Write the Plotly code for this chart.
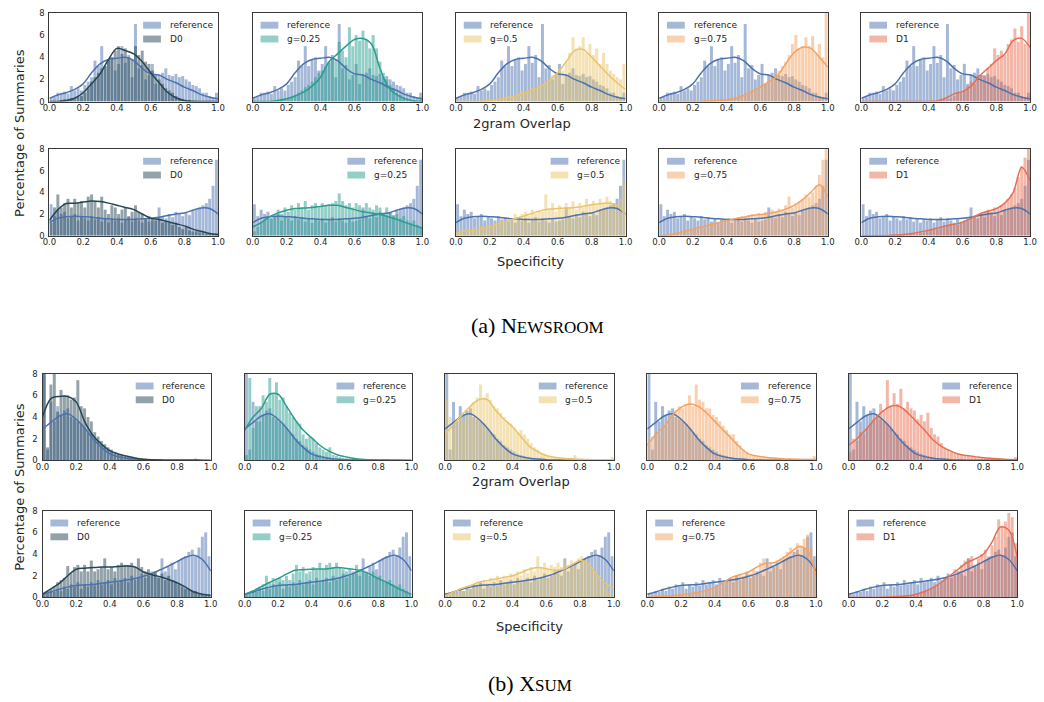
import plotly.graph_objects as go

W, H = 1044, 702

# ---------------- data ----------------
BIN_CENTERS = [0.01, 0.03, 0.05, 0.07, 0.09, 0.11, 0.13, 0.15, 0.17, 0.19,
               0.21, 0.23, 0.25, 0.27, 0.29, 0.31, 0.33, 0.35, 0.37, 0.39,
               0.41, 0.43, 0.45, 0.47, 0.49, 0.51, 0.53, 0.55, 0.57, 0.59,
               0.61, 0.63, 0.65, 0.67, 0.69, 0.71, 0.73, 0.75, 0.77, 0.79,
               0.81, 0.83, 0.85, 0.87, 0.89, 0.91, 0.93, 0.95, 0.97, 0.99]
KDE_X = [0.0, 0.05, 0.1, 0.15, 0.2, 0.25, 0.3, 0.35, 0.4, 0.45, 0.5,
         0.55, 0.6, 0.65, 0.7, 0.75, 0.8, 0.85, 0.9, 0.95, 1.0]
X_TICKS = [0.0, 0.2, 0.4, 0.6, 0.8, 1.0]
X_TICK_TEXT = ["0.0", "0.2", "0.4", "0.6", "0.8", "1.0"]
Y_TICKS = [0, 2, 4, 6, 8]

COND_LABELS = ["D0", "g=0.25", "g=0.5", "g=0.75", "D1"]
REF_LABEL = "reference"

# Newsroom - 2gram overlap
NR_OVL_REF = [0.3, 0.4, 0.8, 0.8, 0.9, 0.7, 1.4, 1.0, 1.2, 1.0,
              1.5, 1.8, 2.2, 3.7, 3.2, 5.0, 3.2, 3.8, 4.0, 2.8,
              3.4, 5.0, 3.5, 4.2, 2.2, 7.0, 3.0, 3.3, 2.0, 2.4,
              3.4, 1.6, 2.4, 2.6, 3.0, 2.4, 2.3, 2.5, 2.2, 2.3,
              2.0, 1.8, 1.5, 1.4, 1.2, 0.8, 0.8, 0.5, 0.4, 0.8]
NR_OVL_REF_KDE = [0.3, 0.6, 0.8, 1.1, 1.6, 2.6, 3.4, 3.8, 3.9, 4.0, 3.7,
                  3.0, 2.5, 2.4, 2.0, 1.7, 1.3, 1.0, 0.63, 0.4, 0.25]
NR_OVL_D0 = [0, 0, 0, 0.1, 0.2, 0.1, 0.3, 0.2, 0.4, 0.5,
             0.8, 1.2, 1.8, 2.2, 2.6, 3.0, 3.2, 3.8, 4.0, 4.6,
             5.0, 4.3, 4.8, 4.0, 3.8, 5.0, 4.2, 4.6, 3.6, 3.4,
             2.8, 2.4, 2.0, 1.6, 1.2, 1.0, 0.8, 0.5, 0.3, 0.2,
             0.1, 0.1, 0, 0, 0, 0, 0, 0, 0, 0]
NR_OVL_D0_KDE = [0, 0.02, 0.1, 0.3, 0.8, 1.6, 2.5, 3.8, 4.8, 4.6, 4.3,
                 3.6, 2.6, 1.7, 0.84, 0.35, 0.1, 0.03, 0.01, 0, 0]
NR_OVL_G25 = [0, 0, 0, 0, 0, 0, 0, 0.1, 0.1, 0.2,
              0.3, 0.4, 0.6, 0.8, 1.0, 1.3, 1.5, 1.8, 2.2, 2.6,
              2.8, 3.2, 3.6, 4.0, 3.8, 5.4, 4.6, 4.0, 6.7, 5.0,
              6.0, 5.5, 6.4, 5.6, 4.8, 6.0, 4.8, 3.6, 2.6, 2.0,
              1.5, 1.2, 0.8, 0.6, 0.4, 0.3, 0.1, 0.1, 0, 0.1]
NR_OVL_G25_KDE = [0, 0, 0.02, 0.1, 0.25, 0.5, 0.85, 1.4, 2.2, 3.6, 4.3,
                  5.0, 5.6, 5.7, 5.2, 3.0, 1.3, 0.6, 0.25, 0.05, 0]
NR_OVL_G50 = [0, 0, 0, 0, 0, 0, 0, 0.1, 0.1, 0.1,
              0.2, 0.2, 0.3, 0.3, 0.4, 0.5, 0.5, 0.6, 0.8, 1.0,
              0.8, 1.0, 1.2, 1.1, 1.4, 1.6, 1.8, 2.0, 2.4, 2.6,
              3.0, 2.8, 3.6, 4.4, 5.8, 4.8, 5.0, 5.8, 4.4, 5.2,
              4.2, 4.8, 3.4, 4.4, 3.4, 2.8, 2.5, 2.2, 2.0, 3.4]
NR_OVL_G50_KDE = [0, 0, 0, 0.02, 0.08, 0.2, 0.33, 0.5, 0.75, 1.05, 1.4,
                  1.9, 2.6, 3.6, 4.6, 4.7, 4.0, 3.2, 2.4, 1.7, 1.1]
NR_OVL_G75 = [0, 0, 0, 0, 0, 0, 0, 0, 0, 0,
              0, 0, 0.05, 0.05, 0.1, 0.1, 0.1, 0.15, 0.2, 0.2,
              0.3, 0.3, 0.4, 0.5, 0.6, 0.7, 0.8, 1.0, 1.2, 1.3,
              1.5, 1.6, 2.0, 2.3, 2.5, 2.8, 3.2, 3.6, 4.2, 5.2,
              6.0, 4.8, 5.0, 5.8, 5.0, 5.9, 4.4, 5.2, 4.0, 8.0]
NR_OVL_G75_KDE = [0, 0, 0, 0, 0, 0.02, 0.05, 0.1, 0.15, 0.25, 0.54,
                  0.9, 1.3, 1.8, 2.3, 3.4, 4.4, 4.9, 4.8, 4.0, 3.1]
NR_OVL_D1 = [0, 0, 0, 0, 0, 0, 0, 0, 0, 0,
             0, 0, 0, 0, 0, 0, 0, 0, 0, 0,
             0, 0, 0, 0.1, 0.1, 0.2, 0.3, 0.5, 0.8, 0.8,
             1.0, 1.4, 1.8, 1.6, 2.4, 2.4, 2.4, 3.0, 3.4, 4.8,
             4.2, 4.6, 4.2, 5.2, 5.6, 6.6, 5.4, 6.8, 5.2, 8.0]
NR_OVL_D1_KDE = [0, 0, 0, 0, 0, 0, 0, 0, 0.02, 0.05, 0.3,
                 0.7, 0.9, 1.4, 2.3, 3.0, 3.7, 4.3, 5.5, 5.7, 4.9]

# Newsroom - specificity
NR_SPEC_REF = [2.9, 1.8, 2.4, 2.0, 2.2, 1.6, 1.8, 2.0, 1.4, 1.8,
               1.6, 1.4, 1.8, 1.5, 1.7, 1.3, 1.6, 1.2, 1.5, 1.4,
               1.6, 1.2, 1.5, 1.7, 1.3, 1.6, 1.4, 1.2, 1.5, 1.3,
               1.4, 1.5, 2.6, 1.8, 1.6, 2.0, 1.7, 2.2, 2.0, 1.8,
               2.1, 1.9, 2.4, 2.5, 2.6, 2.8, 3.0, 3.4, 4.6, 7.0]
NR_SPEC_REF_KDE = [1.2, 1.6, 1.75, 1.8, 1.75, 1.7, 1.6, 1.55, 1.5, 1.5, 1.5,
                   1.55, 1.6, 1.7, 1.85, 2.0, 2.1, 2.35, 2.55, 2.5, 2.0]
NR_SPEC_D0 = [1.2, 2.6, 3.8, 2.6, 3.0, 3.4, 2.6, 3.4, 3.0, 3.2,
              2.6, 3.6, 3.8, 3.2, 2.6, 3.6, 2.4, 2.0, 2.8, 2.6,
              2.0, 2.4, 2.6, 1.8, 2.2, 2.8, 2.2, 2.0, 1.6, 1.8,
              1.6, 1.4, 1.6, 1.2, 1.4, 1.2, 1.0, 1.2, 0.8, 0.6,
              0.8, 0.5, 0.4, 0.4, 0.3, 0.4, 0.2, 0.2, 0.1, 0.1]
NR_SPEC_D0_KDE = [1.4, 2.4, 2.96, 3.0, 3.1, 3.2, 3.15, 3.0, 2.8, 2.6, 2.4,
                  2.0, 1.6, 1.5, 1.3, 1.1, 0.9, 0.6, 0.4, 0.2, 0.1]
NR_SPEC_G25 = [0.4, 0.8, 1.2, 1.4, 1.8, 1.6, 2.0, 2.4, 2.0, 2.6,
               2.2, 2.8, 2.4, 3.0, 2.6, 3.2, 2.4, 2.8, 3.0, 2.6,
               3.0, 2.8, 2.9, 3.0, 3.2, 3.9, 3.2, 2.8, 3.0, 2.6,
               3.0, 2.8, 2.4, 3.0, 2.6, 2.4, 2.8, 2.6, 2.0, 2.6,
               2.2, 1.8, 2.0, 1.6, 1.8, 1.4, 1.2, 1.4, 1.0, 0.8]
NR_SPEC_G25_KDE = [0.8, 1.2, 1.75, 2.1, 2.35, 2.5, 2.55, 2.6, 2.7, 2.8, 2.8,
                   2.6, 2.4, 2.2, 2.1, 1.95, 1.75, 1.5, 1.2, 0.95, 0.7]
NR_SPEC_G50 = [0.3, 0.5, 0.2, 0.6, 0.4, 0.8, 0.6, 0.9, 0.7, 1.0,
               0.8, 1.2, 1.0, 1.4, 1.2, 1.6, 1.4, 2.0, 1.6, 2.0,
               2.2, 1.8, 2.4, 2.0, 2.2, 2.2, 3.8, 2.4, 3.0, 2.2,
               2.8, 2.4, 3.0, 2.6, 3.2, 2.4, 3.0, 2.6, 3.4, 2.8,
               3.2, 2.8, 3.4, 3.0, 3.6, 3.2, 3.0, 2.8, 3.4, 5.0]
NR_SPEC_G50_KDE = [0.2, 0.4, 0.5, 0.65, 0.85, 1.1, 1.35, 1.6, 1.8, 2.05, 2.3,
                   2.45, 2.5, 2.55, 2.6, 2.7, 2.85, 2.95, 3.0, 2.8, 1.9]
NR_SPEC_G75 = [0, 0, 0, 0.1, 0.2, 0.3, 0.3, 0.4, 0.5, 0.6,
               0.6, 0.7, 0.8, 0.9, 0.9, 1.0, 1.1, 1.2, 1.2, 1.4,
               1.3, 1.5, 1.6, 1.5, 1.8, 1.7, 1.9, 2.0, 1.8, 2.1,
               2.0, 2.2, 2.1, 2.4, 2.2, 2.5, 2.4, 2.8, 3.6, 2.6,
               3.0, 3.2, 3.4, 3.8, 3.6, 4.0, 4.6, 5.6, 7.0, 8.0]
NR_SPEC_G75_KDE = [0, 0.05, 0.2, 0.4, 0.6, 0.8, 1.0, 1.2, 1.4, 1.55, 1.7,
                   1.85, 1.95, 2.05, 2.2, 2.45, 2.8, 3.3, 4.0, 4.7, 3.6]
NR_SPEC_D1 = [0, 0, 0, 0, 0, 0, 0, 0, 0, 0,
              0.05, 0.05, 0.1, 0.1, 0.15, 0.2, 0.2, 0.3, 0.3, 0.4,
              0.5, 0.6, 0.6, 0.7, 0.8, 0.9, 1.0, 1.1, 1.0, 1.2,
              1.3, 1.4, 1.6, 1.8, 1.7, 2.0, 2.2, 2.4, 2.2, 2.6,
              2.6, 2.8, 3.0, 3.4, 3.8, 4.4, 5.4, 6.4, 7.2, 8.0]
NR_SPEC_D1_KDE = [0, 0, 0, 0, 0.05, 0.1, 0.2, 0.35, 0.5, 0.7, 0.9,
                  1.05, 1.25, 1.6, 2.0, 2.25, 2.5, 3.0, 4.0, 6.3, 5.1]

# XSum - 2gram overlap
XS_OVL_REF = [8.5, 1.0, 5.4, 3.6, 5.0, 4.2, 4.6, 4.8, 4.0, 3.8,
              3.6, 3.4, 3.0, 2.6, 2.4, 2.0, 1.8, 1.4, 1.2, 1.0,
              0.8, 0.6, 0.5, 0.4, 0.3, 0.25, 0.2, 0.15, 0.1, 0.1,
              0.05, 0.05, 0.05, 0.03, 0.03, 0.02, 0.02, 0.02, 0.02, 0.02,
              0.02, 0.02, 0.01, 0.01, 0.01, 0.01, 0.01, 0.01, 0.01, 0.02]
XS_OVL_REF_KDE = [2.9, 3.5, 4.1, 4.3, 3.8, 3.0, 2.0, 1.2, 0.6, 0.35, 0.2,
                  0.12, 0.07, 0.04, 0.02, 0.01, 0.01, 0.01, 0.01, 0, 0]
XS_OVL_D0 = [8.5, 1.2, 7.0, 8.5, 4.5, 6.5, 6.0, 6.0, 5.6, 5.8,
             7.4, 5.0, 4.8, 4.0, 3.6, 2.6, 2.2, 1.8, 1.5, 1.2,
             1.0, 0.8, 0.6, 0.5, 0.4, 0.35, 0.3, 0.2, 0.15, 0.1,
             0.1, 0.05, 0.05, 0.05, 0.03, 0.03, 0.02, 0.02, 0.02, 0.02,
             0.01, 0.01, 0.01, 0.01, 0.01, 0.1, 0.01, 0.01, 0.01, 0]
XS_OVL_D0_KDE = [4.0, 5.7, 5.9, 5.9, 5.4, 3.6, 2.3, 1.5, 0.9, 0.6, 0.4,
                 0.22, 0.1, 0.05, 0.03, 0.02, 0.01, 0.01, 0.01, 0, 0]
XS_OVL_G25 = [0.5, 7.6, 3.0, 5.0, 3.6, 6.0, 5.4, 7.6, 6.2, 7.2,
              5.6, 5.8, 5.0, 4.4, 4.0, 3.6, 3.4, 2.4, 2.0, 2.2,
              2.0, 1.6, 1.2, 1.0, 0.8, 1.2, 0.5, 0.4, 0.3, 0.2,
              0.2, 0.1, 0.1, 0.1, 0.05, 0.05, 0.05, 0.05, 0.05, 0.03,
              0.03, 0.03, 0.02, 0.02, 0.02, 0.02, 0.02, 0.02, 0.02, 0.02]
XS_OVL_G25_KDE = [2.8, 4.0, 4.8, 6.1, 6.1, 5.0, 3.8, 2.8, 2.1, 1.4, 0.9,
                  0.55, 0.35, 0.2, 0.1, 0.06, 0.04, 0.03, 0.02, 0.01, 0]
XS_OVL_G50 = [5.6, 4.0, 3.0, 3.6, 4.2, 3.8, 4.4, 5.0, 5.4, 5.8,
              7.0, 5.8, 6.2, 5.6, 5.0, 4.8, 4.4, 4.0, 3.6, 3.4,
              3.0, 2.6, 2.8, 2.4, 2.0, 1.6, 1.2, 1.0, 0.6, 0.5,
              0.4, 0.3, 0.3, 0.2, 0.2, 0.15, 0.1, 0.1, 0.5, 0.1,
              0.1, 0.05, 0.05, 0.05, 0.05, 0.05, 0.05, 0.05, 0.05, 0.3]
XS_OVL_G50_KDE = [2.4, 3.3, 4.2, 5.0, 5.6, 5.6, 4.6, 3.8, 3.1, 2.2, 1.3,
                  0.8, 0.45, 0.3, 0.2, 0.15, 0.1, 0.08, 0.06, 0.05, 0.05]
XS_OVL_G75 = [1.6, 2.2, 2.6, 2.4, 3.0, 3.2, 3.8, 4.0, 4.6, 5.0,
              4.8, 5.2, 6.0, 5.0, 7.0, 5.6, 5.4, 4.8, 4.8, 4.2,
              4.0, 3.6, 3.2, 2.8, 2.4, 2.4, 1.8, 1.4, 1.0, 0.8,
              0.6, 0.5, 0.4, 0.3, 0.3, 0.3, 0.3, 0.2, 0.2, 0.2,
              0.2, 0.15, 0.15, 0.1, 0.1, 0.1, 0.1, 0.1, 0.1, 0.4]
XS_OVL_G75_KDE = [1.4, 2.4, 3.1, 4.2, 4.9, 5.2, 5.0, 4.4, 3.6, 2.8, 2.0,
                  1.2, 0.6, 0.4, 0.3, 0.22, 0.15, 0.12, 0.1, 0.08, 0.08]
XS_OVL_D1 = [0.8, 2.0, 1.8, 2.6, 2.4, 3.0, 3.4, 3.8, 4.2, 5.2,
             4.6, 7.4, 5.0, 6.2, 5.2, 6.6, 4.8, 5.4, 4.8, 4.6,
             3.8, 4.2, 3.6, 4.4, 3.0, 2.4, 2.2, 1.6, 1.2, 1.0,
             0.8, 0.7, 0.6, 0.5, 0.4, 0.4, 0.3, 0.3, 0.2, 0.2,
             0.2, 0.1, 0.1, 0.1, 0.1, 0.1, 0.05, 0.05, 0.05, 0.3]
XS_OVL_D1_KDE = [1.4, 2.0, 2.8, 3.7, 4.5, 5.0, 5.0, 4.4, 3.6, 2.8, 1.9,
                 1.3, 0.9, 0.6, 0.45, 0.35, 0.25, 0.18, 0.12, 0.08, 0.05]

# XSum - specificity
XS_SPEC_REF = [0.4, 0.3, 0.6, 0.5, 0.8, 0.6, 1.0, 0.8, 1.2, 1.0,
               1.4, 0.8, 1.2, 1.0, 1.4, 1.1, 1.6, 1.2, 1.4, 1.6,
               1.2, 1.8, 1.4, 1.6, 1.8, 1.4, 2.0, 1.6, 1.8, 2.2,
               1.8, 2.0, 2.4, 2.2, 2.0, 3.6, 2.4, 2.8, 3.2, 2.6,
               3.4, 3.6, 3.8, 4.2, 4.4, 3.8, 4.6, 5.6, 6.0, 3.8]
XS_SPEC_REF_KDE = [0.3, 0.5, 0.75, 0.95, 1.1, 1.15, 1.2, 1.3, 1.4, 1.5, 1.6,
                   1.75, 1.95, 2.2, 2.55, 2.9, 3.3, 3.7, 3.9, 3.5, 2.45]
XS_SPEC_D0 = [0.4, 0.6, 0.8, 1.0, 1.4, 1.6, 1.8, 2.9, 2.2, 2.8,
              3.0, 2.4, 3.0, 2.4, 3.4, 2.4, 2.6, 2.8, 3.6, 2.6,
              2.8, 2.4, 3.0, 3.2, 3.0, 3.0, 3.2, 2.8, 3.6, 2.8,
              2.4, 2.6, 2.2, 2.4, 1.8, 2.2, 1.6, 2.0, 1.6, 1.4,
              1.2, 1.0, 0.8, 0.8, 0.6, 0.6, 0.4, 0.3, 0.2, 0.2]
XS_SPEC_D0_KDE = [0.3, 0.8, 1.3, 2.0, 2.6, 2.7, 2.75, 2.8, 2.8, 2.85, 2.9,
                  2.8, 2.35, 2.1, 1.9, 1.65, 1.35, 0.95, 0.5, 0.3, 0.2]
XS_SPEC_G25 = [0.3, 0.4, 0.6, 0.8, 1.0, 1.2, 2.0, 1.4, 1.8, 1.6,
               1.8, 1.6, 2.0, 1.6, 2.2, 3.0, 2.4, 2.8, 2.2, 2.4,
               2.8, 2.6, 3.2, 2.6, 3.0, 3.2, 2.8, 3.2, 2.8, 2.6,
               2.4, 2.6, 2.2, 3.0, 2.6, 2.4, 2.2, 2.0, 2.4, 1.8,
               2.0, 1.6, 1.4, 1.6, 1.2, 1.0, 1.2, 0.8, 0.6, 0.4]
XS_SPEC_G25_KDE = [0.3, 0.6, 1.0, 1.4, 1.75, 2.15, 2.5, 2.55, 2.6, 2.62, 2.65,
                   2.75, 2.7, 2.6, 2.45, 2.15, 1.75, 1.4, 1.0, 0.6, 0.3]
XS_SPEC_G50 = [0.3, 0.4, 0.6, 0.4, 0.8, 0.6, 1.0, 0.8, 1.2, 1.4,
               1.2, 1.6, 1.4, 1.8, 1.6, 2.0, 1.6, 2.0, 1.8, 2.2,
               2.0, 2.4, 2.0, 2.6, 2.2, 2.8, 2.4, 3.8, 2.8, 3.2,
               2.6, 3.0, 2.8, 3.2, 2.8, 3.4, 3.0, 3.4, 3.2, 3.6,
               3.8, 3.4, 3.0, 2.6, 2.2, 1.8, 1.4, 1.0, 0.6, 0.4]
XS_SPEC_G50_KDE = [0.15, 0.5, 0.85, 1.1, 1.4, 1.55, 1.7, 1.85, 2.0, 2.3, 2.6,
                   2.75, 2.65, 2.5, 2.6, 3.0, 3.4, 3.1, 2.1, 1.3, 0.8]
XS_SPEC_G75 = [0, 0.05, 0.05, 0.1, 0.1, 0.1, 0.15, 0.2, 0.2, 0.2,
               0.3, 0.3, 0.35, 0.4, 0.4, 0.5, 0.5, 0.6, 0.7, 0.8,
               0.9, 1.0, 1.2, 1.4, 1.6, 1.8, 2.0, 2.2, 2.0, 2.4,
               2.2, 2.6, 2.4, 3.2, 3.6, 3.0, 3.2, 2.8, 3.4, 3.6,
               3.8, 4.2, 4.6, 4.2, 5.0, 4.8, 5.4, 5.8, 4.6, 3.0]
XS_SPEC_G75_KDE = [0.02, 0.05, 0.1, 0.15, 0.25, 0.35, 0.45, 0.65, 0.9, 1.35, 1.85,
                   2.1, 2.35, 2.8, 3.15, 3.2, 3.6, 4.15, 4.7, 4.3, 2.0]
XS_SPEC_D1 = [0, 0, 0, 0, 0, 0, 0, 0, 0, 0,
              0, 0, 0, 0.05, 0.05, 0.05, 0.1, 0.1, 0.15, 0.2,
              0.3, 0.4, 0.5, 0.7, 0.8, 1.0, 1.2, 1.4, 1.6, 1.8,
              2.0, 2.6, 2.4, 3.0, 3.4, 3.6, 3.8, 3.0, 3.6, 4.0,
              4.4, 3.8, 4.8, 5.6, 7.2, 6.6, 7.0, 7.8, 7.4, 5.0]
XS_SPEC_D1_KDE = [0, 0, 0, 0, 0.02, 0.05, 0.08, 0.15, 0.3, 0.55, 0.9,
                  1.4, 2.0, 2.6, 3.2, 3.55, 4.0, 5.1, 6.5, 6.2, 3.7]

ROWS = [
    dict(ref=NR_OVL_REF, ref_kde=NR_OVL_REF_KDE, xlabel="2gram Overlap",
         conds=[(NR_OVL_D0, NR_OVL_D0_KDE), (NR_OVL_G25, NR_OVL_G25_KDE),
                (NR_OVL_G50, NR_OVL_G50_KDE), (NR_OVL_G75, NR_OVL_G75_KDE),
                (NR_OVL_D1, NR_OVL_D1_KDE)]),
    dict(ref=NR_SPEC_REF, ref_kde=NR_SPEC_REF_KDE, xlabel="Specificity",
         conds=[(NR_SPEC_D0, NR_SPEC_D0_KDE), (NR_SPEC_G25, NR_SPEC_G25_KDE),
                (NR_SPEC_G50, NR_SPEC_G50_KDE), (NR_SPEC_G75, NR_SPEC_G75_KDE),
                (NR_SPEC_D1, NR_SPEC_D1_KDE)]),
    dict(ref=XS_OVL_REF, ref_kde=XS_OVL_REF_KDE, xlabel="2gram Overlap",
         conds=[(XS_OVL_D0, XS_OVL_D0_KDE), (XS_OVL_G25, XS_OVL_G25_KDE),
                (XS_OVL_G50, XS_OVL_G50_KDE), (XS_OVL_G75, XS_OVL_G75_KDE),
                (XS_OVL_D1, XS_OVL_D1_KDE)]),
    dict(ref=XS_SPEC_REF, ref_kde=XS_SPEC_REF_KDE, xlabel="Specificity",
         conds=[(XS_SPEC_D0, XS_SPEC_D0_KDE), (XS_SPEC_G25, XS_SPEC_G25_KDE),
                (XS_SPEC_G50, XS_SPEC_G50_KDE), (XS_SPEC_G75, XS_SPEC_G75_KDE),
                (XS_SPEC_D1, XS_SPEC_D1_KDE)]),
]

# ---------------- styling / layout ----------------
REF_COLOR = "#4c72b0"
COND_COLORS = ["#264653", "#2a9d8f", "#e9c46a", "#f4a261", "#e76f51"]
BAR_ALPHA = 0.5
TEXT_COLOR = "#262626"
FRAME_COLOR = "#3a3a3a"
FONT = "DejaVu Sans"

ROW_Y = [(8, 98), (146, 234), (374, 462), (513, 601)]
COL_X_TOP = [(43, 214), (249, 421), (455, 627), (661, 832), (866, 1037)]
COL_X_BOT = [(36, 206.5), (241, 410), (444, 615), (649, 820), (853, 1024)]
LEGEND_SIDE = [["right", "left", "left", "left", "left"],
               ["right", "right", "right", "left", "left"],
               ["right", "right", "right", "right", "right"],
               ["left", "left", "left", "left", "left"]]
XLABEL_POS = [(522, 120), (531, 260), (521, 483), (530, 630)]


def rgba(hexcol, a):
    h = hexcol.lstrip("#")
    r, g, b = int(h[0:2], 16), int(h[2:4], 16), int(h[4:6], 16)
    return f"rgba({r},{g},{b},{a})"


fig = go.Figure()
layout = dict(width=W, height=H, margin=dict(l=0, r=0, t=0, b=0),
              paper_bgcolor="white", plot_bgcolor="white",
              barmode="overlay", bargap=0.12, showlegend=False,
              shapes=[], annotations=[])

for r, row in enumerate(ROWS):
    top, bot = ROW_Y[r]
    cols = COL_X_TOP if r < 2 else COL_X_BOT
    for c in range(5):
        n = r * 5 + c + 1
        xs = "x" if n == 1 else f"x{n}"
        ys = "y" if n == 1 else f"y{n}"
        left, right = cols[c]
        hist, kde = row["conds"][c]
        ccol = COND_COLORS[c]

        fig.add_trace(go.Bar(x=BIN_CENTERS, y=row["ref"], xaxis=xs, yaxis=ys,
                             marker=dict(color=REF_COLOR, line=dict(width=0)),
                             opacity=BAR_ALPHA, hoverinfo="skip"))
        fig.add_trace(go.Bar(x=BIN_CENTERS, y=hist, xaxis=xs, yaxis=ys,
                             marker=dict(color=ccol, line=dict(width=0)),
                             opacity=BAR_ALPHA, hoverinfo="skip"))
        fig.add_trace(go.Scatter(x=KDE_X, y=row["ref_kde"], xaxis=xs, yaxis=ys,
                                 mode="lines", hoverinfo="skip",
                                 line=dict(color=REF_COLOR, width=1.5,
                                           shape="spline", smoothing=0.9)))
        fig.add_trace(go.Scatter(x=KDE_X, y=kde, xaxis=xs, yaxis=ys,
                                 mode="lines", hoverinfo="skip",
                                 line=dict(color=ccol, width=1.5,
                                           shape="spline", smoothing=0.9)))

        axkey = "xaxis" if n == 1 else f"xaxis{n}"
        aykey = "yaxis" if n == 1 else f"yaxis{n}"
        layout[axkey] = dict(domain=[left / W, right / W], anchor=ys,
                             range=[0, 1], fixedrange=True,
                             tickvals=X_TICKS, ticktext=X_TICK_TEXT,
                             ticks="", showgrid=False, zeroline=False,
                             showline=True, mirror=True, ticklabelstandoff=-2,
                             linecolor=FRAME_COLOR, linewidth=1.2,
                             tickfont=dict(family=FONT, size=8.5, color=TEXT_COLOR))
        layout[aykey] = dict(domain=[1 - bot / H, 1 - top / H], anchor=xs,
                             range=[0, 8], fixedrange=True,
                             tickvals=Y_TICKS, showticklabels=(c == 0),
                             ticks="", showgrid=False, zeroline=False,
                             showline=True, mirror=True, ticklabelstandoff=2,
                             linecolor=FRAME_COLOR, linewidth=1.2,
                             tickfont=dict(family=FONT, size=8.5, color=TEXT_COLOR))

        # legend (patch + label) drawn per panel
        if LEGEND_SIDE[r][c] == "right":
            px0 = right - 76
        else:
            px0 = left + 8
        entries = [(REF_LABEL, REF_COLOR), (COND_LABELS[c], ccol)]
        for k, (lab, col) in enumerate(entries):
            cy = top + 12.5 + 14 * k
            layout["shapes"].append(dict(
                type="rect", xref="paper", yref="paper",
                x0=px0 / W, x1=(px0 + 18) / W,
                y0=1 - (cy + 3.5) / H, y1=1 - (cy - 3.5) / H,
                line=dict(width=0), fillcolor=rgba(col, BAR_ALPHA)))
            layout["annotations"].append(dict(
                x=(px0 + 25) / W, y=1 - cy / H, xref="paper", yref="paper",
                text=lab, showarrow=False, xanchor="left", yanchor="middle",
                font=dict(family=FONT, size=9, color=TEXT_COLOR)))

    lx, ly = XLABEL_POS[r]
    layout["annotations"].append(dict(
        x=lx / W, y=1 - ly / H, xref="paper", yref="paper", text=row["xlabel"],
        showarrow=False, xanchor="center", yanchor="middle",
        font=dict(family=FONT, size=13, color=TEXT_COLOR)))

# y-axis titles
for cy in (130, 489):
    layout["annotations"].append(dict(
        x=12 / W, y=1 - cy / H, xref="paper", yref="paper",
        text="Percentage of Summaries", textangle=-90, showarrow=False,
        xanchor="center", yanchor="middle",
        font=dict(family=FONT, size=13, color=TEXT_COLOR)))

# sub-figure captions
CAPTIONS = [("(a) N<span style='font-size:17px'>EWSROOM</span>", 538, 325),
            ("(b) X<span style='font-size:17px'>SUM</span>", 530, 688)]
for text, cx, cy in CAPTIONS:
    layout["annotations"].append(dict(
        x=cx / W, y=1 - cy / H, xref="paper", yref="paper", text=text,
        showarrow=False, xanchor="center", yanchor="middle",
        font=dict(family="Liberation Serif", size=22, color="black")))

fig.update_layout(**layout)
fig.write_html("out.html", config={"displayModeBar": False},
               post_script="document.body.style.margin='0';document.body.style.overflow='hidden';")
